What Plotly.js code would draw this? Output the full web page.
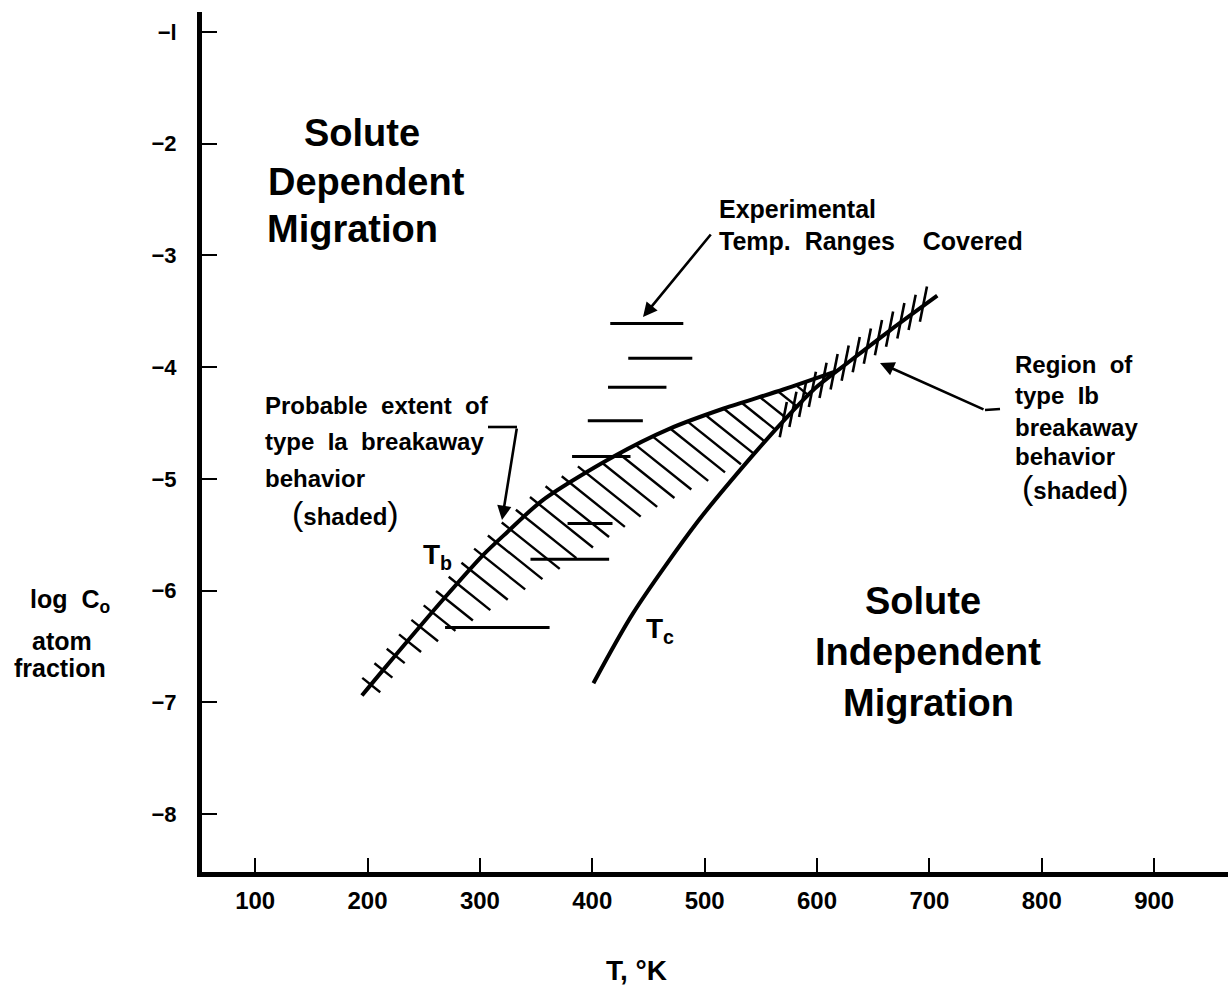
<!DOCTYPE html>
<html><head><meta charset="utf-8">
<script src="https://cdn.plot.ly/plotly-3.0.1.min.js"></script>
<style>html,body{margin:0;padding:0;background:#fff}</style>
</head><body><div id="chart" style="width:1228px;height:993px"></div>
<script>
// ---------- values ----------
const xTickVals = [100, 200, 300, 400, 500, 600, 700, 800, 900];
const yTickVals = [-1, -2, -3, -4, -5, -6, -7, -8];
const yTickText = ['−l', '−2', '−3', '−4', '−5', '−6', '−7', '−8'];

// T_b curve (onset of breakaway), T in K, log C0
const tbT = [195, 214, 269, 303, 324, 356, 419, 469, 517, 570, 616];
const tbV = [-6.94, -6.71, -6.06, -5.68, -5.48, -5.19, -4.80, -4.55, -4.37, -4.20, -4.04];
// T_c curve
const tcT = [401, 436.5, 494, 541, 572, 598, 630, 665, 707];
const tcV = [-6.83, -6.20, -5.38, -4.81, -4.46, -4.19, -3.94, -3.67, -3.36];

// experimental temperature ranges covered
const expLowT  = [416, 432, 414, 396, 382, 378, 345, 269];
const expHighT = [481, 489, 466, 445, 434, 418, 415, 362];
const expV     = [-3.61, -3.92, -4.18, -4.48, -4.80, -5.40, -5.72, -6.33];

// lower extent of the shaded type Ia zone
const iaLimitT = [194, 265, 372, 452, 536];
const iaLimitV = [-6.89, -6.44, -5.80, -5.28, -4.85];
// extent of the shaded type Ib stretch along T_c
const ibFromT = 564;
const ibToT = 701;

// ---------- layout geometry ----------
const XR = [52.7, 965.7], YR = [-8.52, -0.82];
const M = {l: 202, r: 0, t: 12, b: 121};
const W = 1228 - M.l - M.r, H = 993 - M.t - M.b;
const px = T => M.l + (T - XR[0]) / (XR[1] - XR[0]) * W;
const py = v => M.t + (YR[1] - v) / (YR[1] - YR[0]) * H;
const tx = x => XR[0] + (x - M.l) / W * (XR[1] - XR[0]);
const vy = y => YR[1] - (y - M.t) / H * (YR[1] - YR[0]);
const PX = x => (x - M.l) / W;          // paper x
const PY = y => 1 - (y - M.t) / H;      // paper y

function polyPx(Ts, Vs) { return Ts.map((t, i) => ({x: px(t), y: py(Vs[i])})); }
function rayHit(p, d, poly) {
  let best = Infinity;
  for (let i = 0; i < poly.length - 1; i++) {
    const a = poly[i], b = poly[i + 1];
    const s = {x: b.x - a.x, y: b.y - a.y};
    const den = d.x * s.y - d.y * s.x;
    if (Math.abs(den) < 1e-9) continue;
    const q = {x: a.x - p.x, y: a.y - p.y};
    const t = (q.x * s.y - q.y * s.x) / den;
    const u = (q.x * d.y - q.y * d.x) / den;
    if (t > 1e-6 && u >= 0 && u <= 1 && t < best) best = t;
  }
  return best;
}
function sampleAlong(poly, s0, step, stop) {
  const out = []; let acc = 0, next = s0;
  for (let i = 0; i < poly.length - 1; i++) {
    const a = poly[i], b = poly[i + 1];
    const len = Math.hypot(b.x - a.x, b.y - a.y);
    while (next <= acc + len) {
      const f = (next - acc) / len;
      const p = {x: a.x + f * (b.x - a.x), y: a.y + f * (b.y - a.y)};
      if (stop(p)) return out;
      out.push(p); next += step;
    }
    acc += len;
  }
  return out;
}

const tbPx = polyPx(tbT, tbV), tcPx = polyPx(tcT, tcV), limPx = polyPx(iaLimitT, iaLimitV);

// type Ia hatching
const dl = Math.hypot(1, 0.8), d = {x: 1 / dl, y: 0.8 / dl};
const iaX = [], iaY = [];
sampleAlong(tbPx, 14, 19, p => p.x > 800).forEach(p => {
  const tC = rayHit(p, d, tcPx), tL = rayHit(p, d, limPx);
  let L;
  if (tC < tL) L = tC; else L = isFinite(tL) ? Math.max(Math.min(tL, 85), 12) : 12;
  const a = p.x < 600 ? 11 : 0;
  if (L < 3 && a === 0) return;
  iaX.push(tx(p.x - a * d.x), tx(p.x + L * d.x), null);
  iaY.push(vy(p.y - a * d.y), vy(p.y + L * d.y), null);
});

// type Ib hatching
const el = Math.hypot(0.2, 1), e = {x: 0.2 / el, y: -1 / el};
const ibX = [], ibY = [];
sampleAlong(tcPx, 2, 14, p => p.x > px(ibToT)).filter(p => p.x >= px(ibFromT)).forEach(p => {
  ibX.push(tx(p.x - 16 * e.x), tx(p.x + 20 * e.x), null);
  ibY.push(vy(p.y - 16 * e.y), vy(p.y + 20 * e.y), null);
});

// experimental ranges
const exX = [], exY = [];
expV.forEach((v, i) => { exX.push(expLowT[i], expHighT[i], null); exY.push(v, v, null); });

const traces = [
  {x: tbT, y: tbV, mode: 'lines', line: {color: '#000', width: 4, shape: 'spline', smoothing: 0.8}, hoverinfo: 'skip'},
  {x: tcT, y: tcV, mode: 'lines', line: {color: '#000', width: 4, shape: 'spline', smoothing: 0.8}, hoverinfo: 'skip'},
  {x: iaX, y: iaY, mode: 'lines', line: {color: '#000', width: 2.4}, hoverinfo: 'skip'},
  {x: ibX, y: ibY, mode: 'lines', line: {color: '#000', width: 2.6}, hoverinfo: 'skip'},
  {x: exX, y: exY, mode: 'lines', line: {color: '#000', width: 3}, hoverinfo: 'skip'}
];

const FAM = '"Liberation Sans", Arial, sans-serif';
function txt(text, x, y, size, xanchor) {
  return {xref: 'paper', yref: 'paper', x: PX(x), y: PY(y), text: text, showarrow: false,
    xanchor: xanchor || 'center', yanchor: 'middle', align: 'left',
    font: {family: FAM, size: size, color: '#000', weight: 'bold'}};
}
function arrow(x0, y0, x1, y1) {
  return {xref: 'x', yref: 'y', axref: 'x', ayref: 'y', x: tx(x1), y: vy(y1), ax: tx(x0), ay: vy(y0),
    text: '', showarrow: true, arrowhead: 2, arrowsize: 1.1, arrowwidth: 2.6, arrowcolor: '#000',
    standoff: 0, startstandoff: 0};
}
const P = s => "<span style='font-size:34px;font-weight:normal'>" + s + "</span>";

const annotations = [
  txt('Solute', 362, 133, 38), txt('Dependent', 366, 182, 38), txt('Migration', 352, 229, 38),
  txt('Solute', 923, 601, 38), txt('Independent', 928, 652, 38), txt('Migration', 928, 703, 38),
  txt('Experimental', 717, 209, 25, 'left'), txt('Temp.  Ranges    Covered', 717, 241, 25, 'left'),
  txt('Probable  extent  of', 263, 405, 24, 'left'), txt('type  Ia  breakaway', 263, 441, 24, 'left'),
  txt('behavior', 263, 478, 24, 'left'), txt(P('(') + 'shaded' + P(')'), 290, 513, 24, 'left'),
  txt('Region  of', 1013, 364, 24, 'left'), txt('type  Ib', 1013, 395, 24, 'left'),
  txt('breakaway', 1013, 427, 24, 'left'), txt('behavior', 1013, 456, 24, 'left'),
  txt(P('(') + 'shaded' + P(')'), 1020, 487, 24, 'left'),
  txt('T<sub>b</sub>', 421, 556, 28, 'left'), txt('T<sub>c</sub>', 644, 630, 28, 'left'),
  txt('log  C<sub>o</sub>', 70, 601, 25), txt('atom', 62, 641, 25), txt('fraction', 60, 668, 25),
  txt('T, °K', 636, 970, 28),
  arrow(712, 233, 643, 317),
  arrow(985, 410, 880, 363),
  arrow(517, 427, 502, 520)
];

const shapes = [
  {type: 'line', xref: 'x', yref: 'y', x0: tx(488), y0: vy(427), x1: tx(517), y1: vy(427), line: {color: '#000', width: 2.6}},
  {type: 'line', xref: 'x', yref: 'y', x0: tx(985), y0: vy(410), x1: tx(1000), y1: vy(409), line: {color: '#000', width: 2.6}}
];

const layout = {
  width: 1228, height: 993, margin: M, paper_bgcolor: '#fff', plot_bgcolor: '#fff', showlegend: false,
  xaxis: {range: XR, showgrid: false, zeroline: false, showline: true, linewidth: 5, linecolor: '#000',
    ticks: 'inside', ticklen: 14, tickwidth: 2, tickcolor: '#000', tickvals: xTickVals,
    ticklabelstandoff: 3, tickfont: {family: FAM, size: 24, color: '#000', weight: 'bold'}},
  yaxis: {range: YR, showgrid: false, zeroline: false, showline: true, linewidth: 5, linecolor: '#000',
    ticks: 'inside', ticklen: 15, tickwidth: 2, tickcolor: '#000', tickvals: yTickVals, ticktext: yTickText,
    ticklabelstandoff: 16, tickfont: {family: FAM, size: 22, color: '#000', weight: 'bold'}},
  annotations: annotations, shapes: shapes
};
Plotly.newPlot('chart', traces, layout, {staticPlot: true});
</script></body></html>
